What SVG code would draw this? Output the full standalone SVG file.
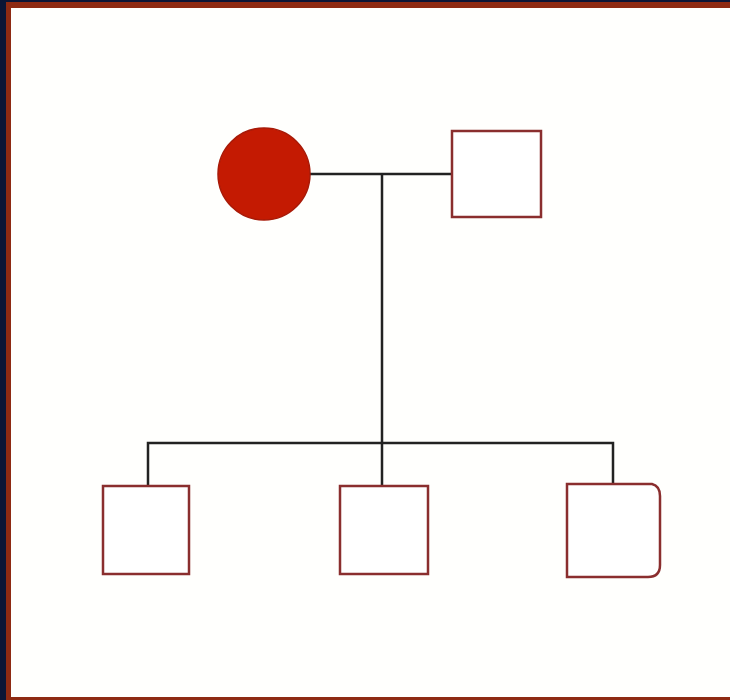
<svg xmlns="http://www.w3.org/2000/svg" width="730" height="700" viewBox="0 0 730 700">
<style>
.sq{fill:#ffffff;stroke:#8a2e2e;stroke-width:2.5}
.ln{fill:none;stroke:#222222;stroke-width:2.5}
</style>
<rect x="0" y="0" width="730" height="700" fill="#0b1535"/>
<rect x="6" y="2" width="724" height="698" fill="#8e2a12"/>
<rect x="11" y="8" width="719" height="689" fill="#fffffd"/>
<g id="connectors">
<path class="ln" d="M310 174 H452"/>
<path class="ln" d="M382 174 V486"/>
<path class="ln" d="M148 486 V443 H613 V484"/>
</g>
<g id="mother"><circle cx="264" cy="174" r="46" fill="#c41a02" stroke="#a81a08" stroke-width="1.5"/></g>
<g id="father"><rect class="sq" x="452" y="131" width="89" height="86"/></g>
<g id="child1"><rect class="sq" x="103" y="486" width="86" height="88"/></g>
<g id="child2"><rect class="sq" x="340" y="486" width="88" height="88"/></g>
<g id="child3"><path class="sq" d="M567 484 H652 Q660 486 660 496 V565 Q660 577 648 577 H567 Z"/></g>
</svg>
